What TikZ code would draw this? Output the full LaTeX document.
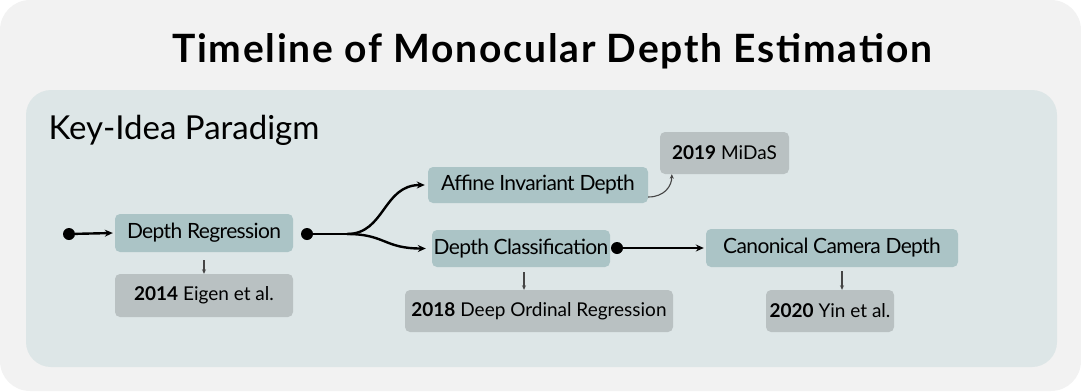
\documentclass[tikz,border=0pt]{standalone}
\usepackage{fontspec}
\setmainfont{Lato}
\newfontfamily\titlefont{Lato}[LetterSpace=4.5]
\newfontfamily\ideafont{Lato}[LetterSpace=-3]
\usepackage{xcolor}
\usepackage{tikz}
\usetikzlibrary{arrows.meta,positioning}

\definecolor{outerbg}{HTML}{F2F2F2}
\definecolor{panelbg}{HTML}{DDE6E7}
\definecolor{ideafill}{HTML}{ABC4C6}
\definecolor{paperfill}{HTML}{B9C1C2}
\definecolor{smallarrow}{HTML}{454545}

\tikzset{
  idea/.style={fill=ideafill, rounded corners=5pt, inner sep=0pt,
    font=\ideafont\fontsize{21}{24}\selectfont, text=black},
  paper/.style={fill=paperfill, rounded corners=5pt, inner sep=0pt,
    font=\fontsize{19}{22}\selectfont, text=black},
  dot/.style={circle, fill=black, inner sep=0pt, minimum size=12pt},
  flow/.style={line width=2.4pt, black},
  flowarrow/.style={flow, -{Stealth[length=8pt,width=7pt]}},
  cite/.style={line width=1.1pt, smallarrow, -{Stealth[length=4.5pt,width=4pt]}}
}

\begin{document}
\begin{tikzpicture}[x=1pt,y=-1pt]
    \useasboundingbox (0,0) rectangle (1081,391);
    % panels
    \fill[outerbg, rounded corners=30pt] (0,0) rectangle (1081,391);
    \fill[panelbg, rounded corners=25pt] (26,90) rectangle (1057,367);
    \node[anchor=base, font=\titlefont\fontsize{39}{44}\selectfont\bfseries] (title) at (552,62)
      {Timeline of Monocular Depth Estimation};
    \node[anchor=base west, font=\fontsize{33}{36}\selectfont] (paradigm) at (45,139)
      {Key-Idea Paradigm};

    % key ideas
    \node[idea, minimum width=178pt, minimum height=38pt] (reg) at (204,233) {Depth Regression};
    \node[idea, minimum width=220pt, minimum height=36pt] (affine) at (538,185) {Affine Invariant Depth};
    \node[idea, minimum width=178pt, minimum height=37pt] (cls) at (521,248.5) {Depth Classification};
    \node[idea, minimum width=252pt, minimum height=38pt] (canon) at (832,248) {Canonical Camera Depth};

    % papers
    \node[paper, minimum width=178pt, minimum height=43pt] (eigen) at (204,295.5) {\textbf{2014} Eigen et al.};
    \node[paper, minimum width=129pt, minimum height=42pt] (midas) at (724.5,153) {\textbf{2019} MiDaS};
    \node[paper, minimum width=268pt, minimum height=42pt] (ordinal) at (539,311) {\textbf{2018} Deep Ordinal Regression};
    \node[paper, minimum width=128pt, minimum height=42pt] (yin) at (830,311) {\textbf{2020} Yin et al.};

    % dots
    \node[dot] (start) at (69,234) {};
    \node[dot] (split) at (307,234) {};
    \node[dot] (clsdot) at (617,248) {};

    % main flow
    \draw[flowarrow] (start) -- ([xshift=-2pt]reg.west);
    \draw[flow] (split.center) -- ++(40,0) coordinate (fork);
    \draw[flowarrow] (fork) .. controls +(38,0) and +(-42,0) .. ([xshift=-3pt]affine.west);
    \draw[flowarrow] (fork) .. controls +(38,0) and +(-42,0) .. ([xshift=-6pt]cls.west);
    \draw[flowarrow] (clsdot.center) -- ([xshift=-2pt]canon.west);

    % papers
    \draw[cite, shorten <=8pt] (reg.south) -- (eigen.north);
    \draw[cite, shorten <=5pt] ([xshift=3pt]cls.south) -- ([xshift=3pt]cls.south |- ordinal.north);
    \draw[cite, shorten <=4pt] ([xshift=10pt]canon.south) -- ([xshift=12pt]yin.north);
    \draw[cite] ([yshift=-12pt]affine.east) .. controls +(16,0) and +(0,12) .. ([xshift=12pt]midas.south west);
  \end{tikzpicture}
\end{document}
